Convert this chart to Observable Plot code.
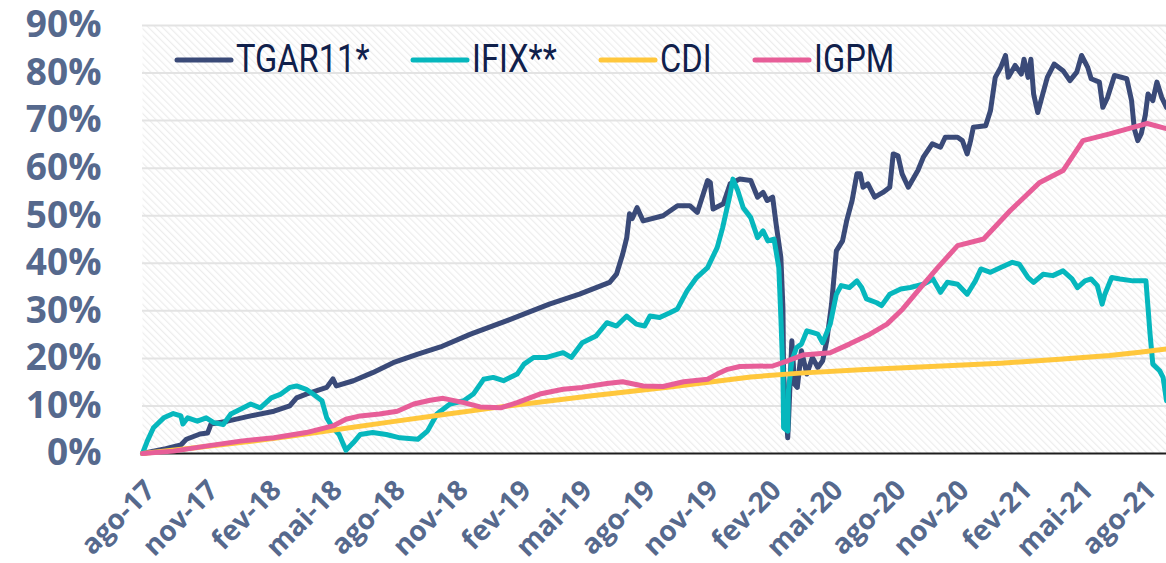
<!DOCTYPE html>
<html><head><meta charset="utf-8">
<script src="https://cdn.jsdelivr.net/npm/d3@7"></script>
<script src="https://cdn.jsdelivr.net/npm/@observablehq/plot@0.6"></script>
<style>
html,body{margin:0;padding:0;background:#fff;}
#chart{width:1166px;height:563px;overflow:hidden;position:relative;}
</style></head><body><div id="chart"></div>
<script>
const seriesNames = ["TGAR11*", "IFIX**", "CDI", "IGPM"];
const seriesColors = ["#3a4a78", "#06b7bd", "#ffc73c", "#e75e98"];

const tgar = [["2017-08-01",0],["2017-09-04",1.0],["2017-09-26",1.8],["2017-10-04",3.0],["2017-10-24",4.1],["2017-11-04",4.3],["2017-11-09",6.2],["2017-12-03",6.8],["2018-01-06",7.9],["2018-02-09",8.9],["2018-03-04",10.0],["2018-03-14",11.7],["2018-03-28",12.5],["2018-04-27",13.9],["2018-05-06",15.7],["2018-05-11",14.2],["2018-06-05",15.3],["2018-07-03",17.0],["2018-08-02",19.1],["2018-09-07",20.9],["2018-10-10",22.4],["2018-11-23",25.1],["2019-01-20",28.2],["2019-03-18",31.4],["2019-05-01",33.5],["2019-06-14",36.0],["2019-06-24",37.7],["2019-07-03",41.9],["2019-07-09",45.4],["2019-07-13",50.4],["2019-07-17",49.4],["2019-07-24",51.7],["2019-08-02",48.9],["2019-08-31",50.0],["2019-09-21",52.1],["2019-10-09",52.1],["2019-10-20",50.7],["2019-11-04",57.4],["2019-11-08",57.0],["2019-11-12",51.4],["2019-11-27",52.5],["2019-12-07",56.7],["2019-12-21",57.7],["2020-01-06",57.4],["2020-01-16",53.9],["2020-01-24",54.9],["2020-01-30",53.2],["2020-02-07",53.9],["2020-02-12",48.3],["2020-02-19",41.2],["2020-02-22",30.7],["2020-02-23",16.7],["2020-02-29",3.3],["2020-03-01",6.2],["2020-03-06",23.7],["2020-03-10",14.6],["2020-03-14",13.9],["2020-03-20",21.6],["2020-03-28",16.7],["2020-04-05",20.2],["2020-04-13",18.1],["2020-04-20",19.5],["2020-04-26",23.7],["2020-05-03",31.4],["2020-05-10",42.6],["2020-05-19",44.7],["2020-05-25",48.9],["2020-06-02",53.2],["2020-06-09",58.8],["2020-06-14",58.8],["2020-06-18",56.0],["2020-06-25",56.7],["2020-07-05",53.9],["2020-07-17",54.9],["2020-07-27",56.0],["2020-08-01",63.0],["2020-08-08",62.6],["2020-08-14",58.8],["2020-08-23",56.0],["2020-09-06",59.5],["2020-09-14",62.3],["2020-09-27",65.1],["2020-10-09",64.4],["2020-10-16",66.5],["2020-11-03",66.5],["2020-11-10",65.8],["2020-11-17",63.0],["2020-11-22",65.8],["2020-11-26",68.6],["2020-12-14",68.9],["2020-12-21",72.1],["2020-12-28",79.1],["2021-01-05",81.2],["2021-01-12",83.7],["2021-01-16",79.1],["2021-01-26",81.6],["2021-02-04",79.8],["2021-02-08",82.9],["2021-02-14",79.1],["2021-02-18",82.9],["2021-02-22",75.6],["2021-02-28",71.7],["2021-03-06",74.9],["2021-03-14",79.1],["2021-03-24",81.9],["2021-04-06",80.5],["2021-04-16",78.4],["2021-04-26",80.2],["2021-05-03",83.7],["2021-05-12",81.2],["2021-05-17",78.8],["2021-05-29",78.1],["2021-06-03",72.8],["2021-06-10",74.9],["2021-06-20",79.5],["2021-07-08",78.8],["2021-07-15",74.2],["2021-07-19",68.3],["2021-07-24",65.8],["2021-07-29",67.2],["2021-08-04",71.1],["2021-08-08",75.6],["2021-08-15",74.2],["2021-08-21",78.1],["2021-08-28",74.9],["2021-09-04",72.8]];

const ifix = [["2017-08-01",0],["2017-08-08",2.6],["2017-08-17",5.4],["2017-09-01",7.5],["2017-09-15",8.4],["2017-09-26",7.9],["2017-09-29",6.2],["2017-10-06",7.5],["2017-10-20",6.8],["2017-11-02",7.5],["2017-11-13",6.5],["2017-11-27",6.1],["2017-12-08",8.3],["2017-12-22",9.3],["2018-01-06",10.4],["2018-01-20",9.6],["2018-02-05",11.7],["2018-02-19",12.5],["2018-03-04",13.9],["2018-03-14",14.2],["2018-03-28",13.5],["2018-04-07",12.5],["2018-04-20",11.1],["2018-04-27",7.5],["2018-05-06",5.4],["2018-05-15",4.0],["2018-05-25",0.7],["2018-06-05",2.3],["2018-06-15",4.0],["2018-07-03",4.4],["2018-07-23",4.0],["2018-08-12",3.3],["2018-09-07",3.0],["2018-09-21",4.7],["2018-10-05",8.3],["2018-10-10",8.9],["2018-10-24",10.4],["2018-11-13",11.1],["2018-11-27",12.5],["2018-12-12",15.6],["2018-12-26",16.0],["2019-01-10",15.3],["2019-01-30",16.7],["2019-02-09",18.8],["2019-02-23",20.2],["2019-03-14",20.2],["2019-04-07",21.2],["2019-04-19",20.2],["2019-05-05",23.3],["2019-05-25",24.7],["2019-06-10",27.5],["2019-06-24",26.8],["2019-07-09",28.9],["2019-07-23",27.2],["2019-08-04",26.8],["2019-08-12",28.9],["2019-08-26",28.6],["2019-09-10",29.6],["2019-09-21",30.4],["2019-10-05",34.2],["2019-10-19",37.0],["2019-11-04",39.1],["2019-11-18",43.3],["2019-11-26",47.5],["2019-12-07",54.6],["2019-12-11",57.7],["2019-12-18",55.3],["2019-12-26",51.7],["2020-01-06",49.6],["2020-01-16",45.4],["2020-01-24",46.8],["2020-01-31",44.7],["2020-02-09",45.1],["2020-02-16",39.1],["2020-02-19",28.6],["2020-02-22",16.7],["2020-02-23",5.4],["2020-02-29",4.7],["2020-03-01",13.2],["2020-03-06",19.5],["2020-03-13",22.3],["2020-03-20",23.0],["2020-03-28",25.8],["2020-04-06",25.4],["2020-04-13",25.1],["2020-04-20",23.3],["2020-05-01",27.2],["2020-05-10",33.5],["2020-05-17",35.3],["2020-05-29",34.9],["2020-06-09",36.3],["2020-06-16",34.9],["2020-06-23",32.5],["2020-07-08",31.7],["2020-07-15",31.1],["2020-07-27",33.5],["2020-08-12",34.6],["2020-08-26",34.9],["2020-09-14",35.6],["2020-09-28",36.7],["2020-10-09",33.9],["2020-10-19",36.0],["2020-11-03",35.6],["2020-11-17",33.5],["2020-11-29",36.3],["2020-12-07",38.8],["2020-12-21",38.1],["2021-01-05",39.1],["2021-01-22",40.2],["2021-02-01",39.8],["2021-02-14",37.0],["2021-02-22",36.0],["2021-03-08",37.7],["2021-03-22",37.4],["2021-04-06",38.4],["2021-04-19",36.7],["2021-04-27",34.9],["2021-05-08",36.3],["2021-05-17",36.7],["2021-05-26",35.3],["2021-06-02",31.4],["2021-06-06",33.5],["2021-06-16",37.0],["2021-06-28",36.7],["2021-07-17",36.3],["2021-08-05",36.3],["2021-08-08",30.7],["2021-08-11",25.1],["2021-08-15",18.8],["2021-08-25",17.4],["2021-08-30",16.0],["2021-09-04",11.1]];

const cdi = [["2017-08-01",0],["2017-10-10",1.1],["2017-12-22",2.3],["2018-03-04",3.6],["2018-05-15",5.1],["2018-07-27",6.6],["2018-10-10",8.1],["2019-01-06",9.8],["2019-05-16",12.1],["2019-09-10",14.0],["2020-01-06",16.1],["2020-03-18",16.9],["2020-06-14",17.6],["2020-09-25",18.3],["2021-01-05",19.0],["2021-04-01",19.8],["2021-06-13",20.6],["2021-07-27",21.3],["2021-09-04",22.0]];

const igpm = [["2017-08-01",0],["2017-09-15",0.5],["2017-11-04",1.6],["2017-12-22",2.6],["2018-02-09",3.3],["2018-03-28",4.4],["2018-05-06",5.8],["2018-05-25",7.2],["2018-06-15",7.9],["2018-07-13",8.3],["2018-08-08",8.9],["2018-09-01",10.4],["2018-09-25",11.2],["2018-10-14",11.6],["2018-11-13",10.7],["2018-12-07",9.8],["2019-01-06",9.6],["2019-01-30",10.7],["2019-03-04",12.5],["2019-04-07",13.5],["2019-05-05",13.9],["2019-06-10",14.7],["2019-07-03",15.1],["2019-08-02",14.2],["2019-08-31",14.1],["2019-09-30",15.1],["2019-11-04",15.6],["2019-11-18",16.7],["2019-12-03",17.7],["2019-12-21",18.3],["2020-02-07",18.4],["2020-02-29",19.5],["2020-03-22",20.7],["2020-05-01",21.2],["2020-05-29",23.0],["2020-06-28",25.1],["2020-07-23",27.2],["2020-08-15",30.4],["2020-09-10",34.9],["2020-10-05",39.1],["2020-11-03",43.7],["2020-12-11",45.1],["2021-01-19",51.1],["2021-03-03",57.0],["2021-04-06",59.5],["2021-05-05",65.8],["2021-06-13",67.2],["2021-08-07",69.4],["2021-09-04",68.3]];

const tickDates = ["2017-08-01","2017-11-01","2018-02-01","2018-05-01","2018-08-01","2018-11-01","2019-02-01","2019-05-01","2019-08-01","2019-11-01","2020-02-01","2020-05-01","2020-08-01","2020-11-01","2021-02-01","2021-05-01","2021-08-01"];
const tickLabels = ["ago-17","nov-17","fev-18","mai-18","ago-18","nov-18","fev-19","mai-19","ago-19","nov-19","fev-20","mai-20","ago-20","nov-20","fev-21","mai-21","ago-21"];
const yTicks = [0,10,20,30,40,50,60,70,80,90];
const xDomain = ["2017-08-01","2021-09-04"];

const all = [tgar, ifix, cdi, igpm];
const rows = all.flatMap((s, i) => s.map(([d, v]) => ({date: new Date(d), value: v, series: seriesNames[i]})));
const labelByTime = new Map(tickDates.map((d, i) => [+new Date(d), tickLabels[i]]));

const axisColor = "#56698d";
const plot = Plot.plot({
  width: 1166, height: 563,
  marginLeft: 142, marginRight: 0, marginTop: 25, marginBottom: 110,
  style: {fontFamily: "'Open Sans', sans-serif", background: "transparent", overflow: "visible"},
  x: {type: "utc", domain: xDomain.map(d => new Date(d)), label: null},
  y: {domain: [0, 90], label: null},
  color: {domain: seriesNames, range: seriesColors},
  marks: [
    Plot.frame({fill: "url(#hatch)", stroke: "none"}),
    Plot.ruleY(yTicks.filter(d => d > 0), {stroke: "#e3e3e3", strokeWidth: 2}),
    Plot.ruleY([0], {stroke: "#1e1e1e", strokeWidth: 2}),
    ...seriesNames.map(name => Plot.line(rows.filter(r => r.series === name), {x: "date", y: "value", stroke: "series", strokeWidth: 5, strokeLinejoin: "round"})),
    Plot.axisY({ticks: yTicks, tickFormat: d => d + "%", tickSize: 0, tickPadding: 41, fontSize: 37, fontWeight: "bold", fill: axisColor, label: null}),
    Plot.axisX({ticks: tickDates.map(d => new Date(d)), tickFormat: d => labelByTime.get(+d), tickRotate: -45, tickSize: 0, tickPadding: 32, dx: 8, fontSize: 28, fontWeight: "bold", fill: axisColor, label: null})
  ]
});

const svg = d3.select(plot);
const defs = svg.insert("defs", ":first-child");
const pat = defs.append("pattern").attr("id", "hatch").attr("width", 5).attr("height", 5)
  .attr("patternUnits", "userSpaceOnUse").attr("patternTransform", "rotate(-45)");
pat.append("rect").attr("width", 5).attr("height", 5).attr("fill", "#ffffff");
pat.append("rect").attr("x", 0).attr("y", 0).attr("width", 1.2).attr("height", 5).attr("fill", "#ededed");

// legend
const legendX = [177, 413, 601, 755];
const lg = svg.append("g").attr("text-anchor", "start");
seriesNames.forEach((name, i) => {
  const x0 = legendX[i];
  lg.append("line").attr("x1", x0).attr("x2", x0 + 54).attr("y1", 60).attr("y2", 60)
    .attr("stroke", seriesColors[i]).attr("stroke-width", 5).attr("stroke-linecap", "round");
  lg.append("text").attr("transform", `translate(${x0 + 59},72) scale(0.86,1)`)
    .attr("text-anchor", "start")
    .attr("font-family", "Roboto, sans-serif").attr("font-size", 38).attr("fill", "#10204b").text(name);
});

document.getElementById("chart").appendChild(plot);
</script>
</body></html>
